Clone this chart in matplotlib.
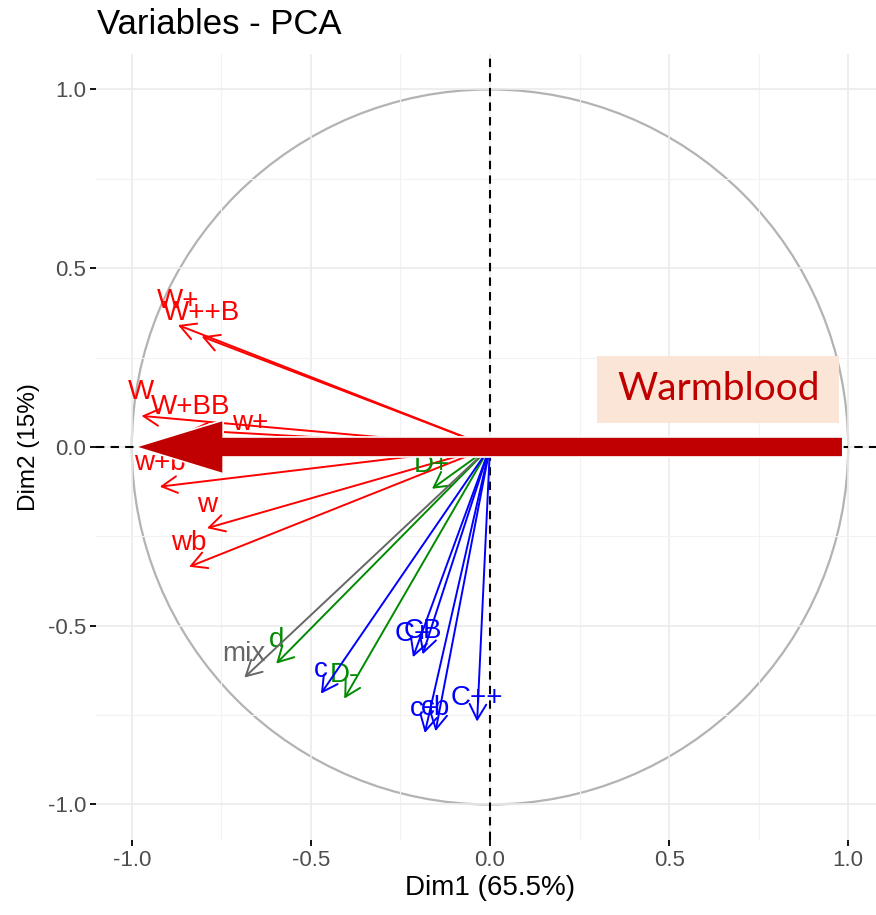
import numpy as np
import matplotlib
matplotlib.use("Agg")
import matplotlib.pyplot as plt
from matplotlib.patches import Circle, FancyArrow, Rectangle

# Variable coordinates (Dim1, Dim2)
names = ["W+", "W++B", "W", "W+BB", "w+", "w+b", "w", "wb",
         "D+", "d", "D-", "mix",
         "c", "C+", "CB", "c+", "cb", "C++"]
dim1 = [-0.871, -0.805, -0.973, -0.837, -0.669, -0.922, -0.790, -0.840,
        -0.162, -0.597, -0.407, -0.686,
        -0.472, -0.215, -0.188, -0.182, -0.152, -0.036]
dim2 = [0.341, 0.309, 0.087, 0.047, 0.002, -0.111, -0.227, -0.335,
        -0.117, -0.606, -0.704, -0.645,
        -0.690, -0.588, -0.580, -0.800, -0.795, -0.768]
groups = ["W"] * 8 + ["D"] * 3 + ["mix"] + ["C"] * 6

colors = {"W": "#FF0000", "D": "#008B00", "mix": "#666666", "C": "#0000FF"}

plt.rcParams["font.family"] = ["Liberation Sans", "DejaVu Sans"]

fig = plt.figure(figsize=(8.76, 9.15), dpi=100)
ax = fig.add_axes([0.1096, 0.0817, 0.8995, 0.8596])
ax.set_xlim(-1.1, 1.1)
ax.set_ylim(-1.1, 1.1)

# ggplot-like minimal theme
for s in ax.spines.values():
    s.set_visible(False)
ax.set_xticks([-1.0, -0.5, 0.0, 0.5, 1.0])
ax.set_yticks([-1.0, -0.5, 0.0, 0.5, 1.0])
ax.set_xticks([-0.75, -0.25, 0.25, 0.75], minor=True)
ax.set_yticks([-0.75, -0.25, 0.25, 0.75], minor=True)
ax.grid(True, which="major", color="#EBEBEB", lw=1.2, zorder=0)
ax.grid(True, which="minor", color="#F2F2F2", lw=0.8, zorder=0)
ax.tick_params(which="major", length=4, width=1.3, color="black",
               labelsize=16, labelcolor="#4D4D4D", pad=3)
ax.tick_params(which="minor", length=0)
ax.set_xticklabels(["-1.0", "-0.5", "0.0", "0.5", "1.0"])
ax.set_yticklabels(["-1.0", "-0.5", "0.0", "0.5", "1.0"])
ax.set_xlabel("Dim1 (65.5%)", fontsize=20, labelpad=3)
ax.set_ylabel("Dim2 (15%)", fontsize=17.5, labelpad=6)
fig.text(0.111, 1 - 24 / 915, "Variables - PCA", fontsize=25, va="center", ha="left")

# correlation circle and axes through origin
ax.add_patch(Circle((0, 0), 1.0, fill=False, ec="#B3B3B3", lw=1.6, zorder=1))
ax.axhline(0, color="black", lw=1.5, ls=(0, (4, 3)), zorder=2)
ax.axvline(0, color="black", lw=1.5, ls=(0, (4, 3)), zorder=2)

# variable arrows and labels
for n, x, y, g in zip(names, dim1, dim2, groups):
    c = colors[g]
    ax.annotate("", xy=(x, y), xytext=(0, 0),
                arrowprops=dict(arrowstyle="->,head_length=0.55,head_width=0.3",
                                color=c, lw=1.4, shrinkA=0, shrinkB=0,
                                mutation_scale=20), zorder=3)
    ax.annotate(n, xy=(x, y), xytext=(0, 17), textcoords="offset points",
                ha="center", va="center", fontsize=20, color=c, zorder=3)

# overlay: big "Warmblood" arrow and label box
ax.add_patch(FancyArrow(0.985, 0.0, -1.975, 0.0, width=0.056, head_width=0.15,
                        head_length=0.245, length_includes_head=True,
                        fc="#C00000", ec="white", lw=1.2, zorder=5))
ax.add_patch(Rectangle((0.299, 0.067), 0.676, 0.188, fc="#FBE5D6", ec="none",
                       zorder=5))
ax.text(0.637, 0.161, "Warmblood", fontsize=28, color="#C00000",
        family=["Lato", "DejaVu Sans"], ha="center", va="center", zorder=6)

fig.savefig("out.png", dpi=100)
